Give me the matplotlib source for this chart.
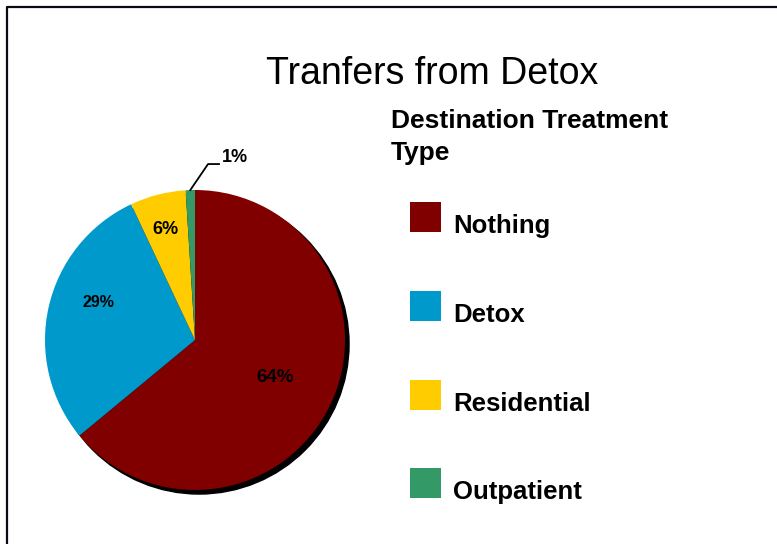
import numpy as np
import matplotlib.pyplot as plt
from matplotlib.patches import Circle, Rectangle
from matplotlib.lines import Line2D

categories = ['Nothing', 'Detox', 'Residential', 'Outpatient']
shares = [64, 29, 6, 1]
pct_labels = ['64%', '29%', '6%', '1%']
colors = ['#800000', '#0099CC', '#FFCC00', '#339966']

title = 'Tranfers from Detox'
legend_title = 'Destination Treatment\nType'

plt.rcParams['font.family'] = ['Liberation Sans', 'DejaVu Sans']

W, H = 777, 544
fig = plt.figure(figsize=(W / 100, H / 100), dpi=100)


def fx(px):
    return px / W


def fy(py):
    # pixel row from the top -> figure fraction
    return 1 - py / H


# pie axes: centre at (195, 340) px from top-left, radius 150 px
R = 150
lim = 1.2
cx, cy = 195, 340
side = 2 * lim * R
ax = fig.add_axes([fx(cx - side / 2), (H - cy - side / 2) / H, side / W, side / H])

wedges, _ = ax.pie(shares, colors=colors, startangle=90, counterclock=False,
                   radius=1, wedgeprops=dict(linewidth=0))
for w in wedges:
    w.set_zorder(2)
ax.add_patch(Circle((0.027, -0.027), 1, color='black', zorder=1))
ax.set_xlim(-lim, lim)
ax.set_ylim(-lim, lim)
ax.set_aspect('auto')
ax.axis('off')

# inside labels: radial distance and angle shift per slice
label_dist = [0.59, 0.69, 0.76]
label_shift = [0, -8.5, 0.5]
label_size = [13.5, 11.5, 13]
for w, txt, d, da, fs in zip(wedges[:3], pct_labels[:3], label_dist,
                             label_shift, label_size):
    ang = np.deg2rad((w.theta1 + w.theta2) / 2 + da)
    ax.text(d * np.cos(ang), d * np.sin(ang), txt, ha='center', va='center',
            fontsize=fs, fontweight='bold', color='black', zorder=3)

# small slice: label outside with leader line
w = wedges[3]
ang = np.deg2rad((w.theta1 + w.theta2) / 2)
ax.plot([np.cos(ang), 0.087, 0.16], [np.sin(ang), 1.173, 1.173],
        color='black', lw=1.3, zorder=3, clip_on=False)
ax.text(0.178, 1.22, pct_labels[3], ha='left', va='center',
        fontsize=13, fontweight='bold', zorder=3, clip_on=False)

fig.text(fx(432), fy(74), title, ha='center', va='center', fontsize=27)
fig.text(fx(391), fy(137), legend_title, ha='left', va='center',
         fontsize=19, fontweight='bold', linespacing=1.42)

# legend: coloured squares with bold labels
top0, step = 202, 88.8
for i, (cat, col) in enumerate(zip(categories, colors)):
    top = top0 + i * step
    fig.add_artist(Rectangle((fx(410), fy(top + 30)), 31 / W, 30 / H,
                             facecolor=col, edgecolor='none',
                             transform=fig.transFigure))
    fig.text(fx(453), fy(top + 31), cat, ha='left', va='baseline',
             fontsize=18.5, fontweight='bold')

# chart border (left and top edges visible)
fig.add_artist(Line2D([fx(6.5), fx(6.5), 1.0], [0.0, fy(7), fy(7)],
                      color='#0a0a14', lw=1.6))

fig.savefig('out.png', dpi=100)
